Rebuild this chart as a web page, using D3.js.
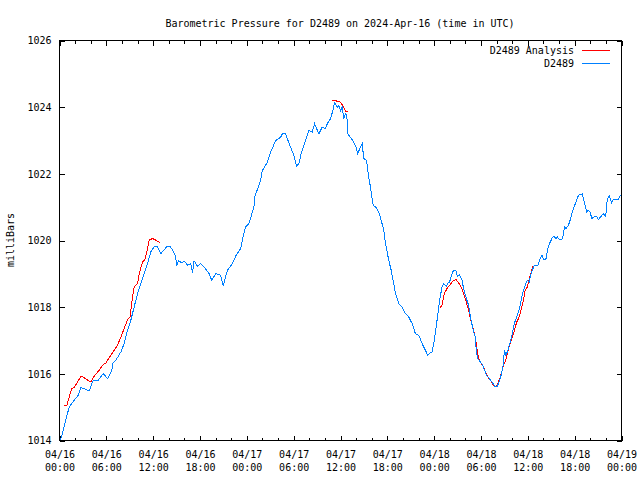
<!DOCTYPE html>
<html>
<head>
<meta charset="utf-8">
<script src="https://cdn.jsdelivr.net/npm/d3@7"></script>
<style>
  html, body { margin: 0; padding: 0; background: #fff; }
  svg { display: block; }
  text { font-family: "DejaVu Sans Mono", monospace; font-size: 10px; fill: #000; }
</style>
</head>
<body>
<svg id="chart" width="640" height="480"></svg>
<script>
// ---------------- data ----------------
const titleText = "Barometric Pressure for D2489 on 2024-Apr-16 (time in UTC)";
const yLabel = "milliBars";
const seriesNames = ["D2489 Analysis", "D2489"];
const startTime = Date.UTC(2024, 3, 16, 0, 0);
const endTime = Date.UTC(2024, 3, 19, 0, 0);
const yTicks = [1014, 1016, 1018, 1020, 1022, 1024, 1026];

// D2489 observations: hours after 04/16 00:00 UTC and pressure (mb)
const obsHours = [0.05,0.28,0.70,1.25,1.89,2.40,2.75,3.81,4.32,4.96,5.60,6.16,6.71,6.80,7.23,7.87,8.29,8.72,9.14,9.57,10.00,10.42,10.85,11.28,11.70,12.12,12.56,12.98,13.40,13.75,14.17,14.61,14.90,14.99,15.24,15.67,15.96,16.40,16.82,17.04,17.24,17.67,18.10,18.52,19.16,19.50,20.02,20.65,20.97,21.51,22.15,22.57,23.21,23.56,23.85,24.27,24.91,25.00,25.35,25.77,25.99,26.63,27.05,27.69,28.33,28.55,28.97,29.19,29.61,30.03,30.37,30.67,31.01,31.53,31.95,32.38,32.68,33.23,33.66,34.08,34.30,34.72,35.02,35.24,35.58,35.78,36.00,36.22,36.42,36.68,36.86,36.94,37.50,37.92,38.21,38.56,38.78,38.98,39.33,39.62,39.84,40.18,40.48,40.90,41.21,41.54,41.76,42.18,42.49,42.74,43.04,43.46,43.89,44.31,44.74,45.17,45.59,46.02,46.45,46.87,47.17,47.51,47.73,48.02,48.37,48.70,49.01,49.21,49.56,49.73,49.98,50.29,50.49,50.80,50.97,51.22,51.57,51.77,52.12,52.41,52.54,52.72,52.92,53.05,53.27,53.39,53.56,53.91,54.20,54.46,54.76,55.06,55.40,55.61,55.83,56.04,56.25,56.47,56.68,56.89,56.98,57.19,57.45,57.62,57.87,58.09,58.26,58.51,58.81,59.02,59.24,59.44,59.75,59.95,60.17,60.30,60.59,60.81,61.29,61.58,61.80,62.09,62.35,62.51,62.77,62.99,63.15,63.37,63.59,63.79,64.01,64.36,64.56,64.69,64.91,65.20,65.42,65.63,65.93,66.18,66.40,66.61,66.82,66.99,67.12,67.34,67.55,67.76,67.98,68.19,68.48,68.83,69.04,69.34,69.68,69.98,70.11,70.32,70.44,70.75,70.95,71.59,71.81,72.00];
const obsPressure = [1014.02,1014.11,1014.52,1015.01,1015.21,1015.36,1015.59,1015.49,1015.81,1015.81,1016.01,1015.86,1016.11,1016.31,1016.41,1016.66,1016.91,1017.31,1017.61,1018.01,1018.41,1018.71,1019.01,1019.31,1019.66,1019.81,1019.81,1019.61,1019.71,1019.83,1019.83,1019.66,1019.51,1019.23,1019.39,1019.33,1019.39,1019.26,1019.31,1019.03,1019.39,1019.23,1019.31,1019.21,1019.01,1018.81,1019.01,1018.96,1018.63,1019.11,1019.31,1019.53,1019.76,1020.16,1020.41,1020.51,1021.01,1021.31,1021.53,1021.81,1022.10,1022.35,1022.65,1023.00,1023.10,1023.20,1023.20,1023.05,1022.80,1022.55,1022.22,1022.31,1022.65,1023.00,1023.30,1023.25,1023.50,1023.20,1023.40,1023.35,1023.50,1023.65,1023.90,1024.13,1024.00,1024.05,1023.90,1024.00,1023.65,1023.82,1023.62,1023.20,1023.02,1022.85,1022.61,1022.80,1022.90,1022.46,1022.40,1021.90,1021.60,1021.06,1021.01,1020.86,1020.61,1020.31,1019.91,1019.41,1019.11,1018.81,1018.41,1018.11,1018.01,1017.81,1017.71,1017.51,1017.21,1017.16,1016.91,1016.71,1016.56,1016.63,1016.66,1017.01,1017.61,1018.21,1018.61,1018.69,1018.63,1018.71,1018.76,1019.01,1019.10,1019.09,1018.93,1018.98,1018.81,1018.56,1018.26,1018.06,1017.86,1017.61,1017.41,1017.26,1017.11,1016.71,1016.46,1016.36,1016.26,1016.11,1015.93,1015.86,1015.76,1015.69,1015.61,1015.61,1015.71,1015.86,1016.06,1016.31,1016.71,1016.56,1016.71,1016.86,1017.06,1017.31,1017.51,1017.66,1017.86,1018.06,1018.31,1018.51,1018.71,1018.81,1018.76,1018.91,1019.11,1019.26,1019.26,1019.46,1019.56,1019.41,1019.46,1019.71,1019.91,1020.01,1020.09,1020.13,1020.06,1020.11,1020.03,1020.03,1020.16,1020.41,1020.36,1020.46,1020.61,1020.81,1021.01,1021.16,1021.31,1021.39,1021.38,1021.41,1021.26,1021.06,1020.86,1020.91,1020.86,1020.66,1020.71,1020.71,1020.63,1020.71,1020.81,1020.71,1021.11,1021.31,1021.33,1021.13,1021.23,1021.23,1021.33,1021.36];

// D2489 Analysis: three runs (null marks a gap between runs)
const anaHours = [0.61,0.96,1.25,1.56,1.89,2.33,2.75,3.10,3.61,4.03,4.37,4.67,5.09,5.52,5.95,6.16,6.59,7.01,7.44,7.87,8.29,8.72,9.05,9.23,9.57,10.00,10.21,10.64,10.93,11.19,11.48,11.92,12.34,12.89,
  13.5,
  34.85,35.36,35.62,35.99,36.42,36.64,36.94,
  37.5,
  48.70,49.01,49.30,49.65,49.98,50.42,50.80,51.13,51.44,51.77,51.99,52.21,52.41,52.63,52.85,53.05,53.27,53.48,53.69,54.00,54.33,54.55,54.84,55.18,55.48,55.70,55.95,56.25,56.47,56.68,56.89,57.10,57.32,57.52,57.74,57.96,58.17,58.38,58.60,58.81,59.02,59.24,59.44,59.65,59.95,60.20,60.38,60.64];
const anaPressure = [1015.06,1015.06,1015.31,1015.56,1015.59,1015.76,1015.93,1015.89,1015.81,1015.76,1015.91,1015.99,1016.11,1016.26,1016.33,1016.41,1016.56,1016.71,1016.86,1017.11,1017.36,1017.63,1017.71,1018.11,1018.61,1018.71,1019.01,1019.36,1019.41,1019.66,1020.01,1020.06,1020.01,1019.93,
  null,
  1024.20,1024.20,1024.17,1024.15,1024.00,1023.88,1023.88,
  null,
  1017.96,1018.06,1018.41,1018.56,1018.66,1018.79,1018.83,1018.73,1018.61,1018.41,1018.26,1018.06,1017.91,1017.66,1017.46,1017.31,1017.11,1016.76,1016.46,1016.33,1016.21,1016.06,1015.93,1015.81,1015.71,1015.61,1015.61,1015.76,1015.91,1016.06,1016.26,1016.36,1016.56,1016.76,1016.91,1017.06,1017.21,1017.41,1017.56,1017.66,1017.81,1018.01,1018.21,1018.51,1018.61,1018.86,1019.01,1019.23];

const colors = ["#ff0000", "#0080ff"];

// ---------------- chart ----------------
const svg = d3.select("#chart");
svg.append("rect").attr("width", 640).attr("height", 480).attr("fill", "#fff");

const mLeft = 59, mRight = 621, mTop = 40, mBottom = 440;
const x = d3.scaleUtc().domain([new Date(startTime), new Date(endTime)]).range([mLeft, mRight]);
const y = d3.scaleLinear().domain([1014, 1026]).range([mBottom, mTop]);

const toDate = h => new Date(startTime + h * 3600 * 1000);
const obs = obsHours.map((h, i) => ({ t: toDate(h), v: obsPressure[i] }));
const ana = anaHours.map((h, i) => ({ t: toDate(h), v: anaPressure[i] }));

const line = d3.line()
  .defined(d => d.v !== null)
  .x(d => x(d.t))
  .y(d => y(d.v));

const g = svg.append("g").attr("transform", "translate(0.5,0.5)");

const majorTicks = d3.utcHour.every(6).range(new Date(startTime), new Date(endTime + 1));
const minorTicks = d3.utcHour.every(2).range(new Date(startTime), new Date(endTime + 1));

const fmtDay = d3.utcFormat("%m/%d"), fmtTime = d3.utcFormat("%H:%M");

function styleAxis(sel) {
  sel.select(".domain").remove();
  sel.selectAll("line").attr("stroke", "#000").attr("shape-rendering", "crispEdges");
  sel.selectAll("text").attr("font-family", "DejaVu Sans Mono").attr("font-size", 10).attr("fill", "#000");
}

// bottom major + labels
const bx = g.append("g").attr("transform", `translate(0,${mBottom})`)
  .call(d3.axisBottom(x).tickValues(majorTicks).tickSize(-5).tickSizeOuter(0).tickFormat(() => ""));
styleAxis(bx);
bx.selectAll(".tick text").each(function(d) {
  const t = d3.select(this).text(null).attr("y", 0).attr("dy", null);
  t.append("tspan").attr("x", 0).attr("y", 17.5).text(fmtDay(d));
  t.append("tspan").attr("x", 0).attr("y", 30.5).text(fmtTime(d));
});
// bottom minor
styleAxis(g.append("g").attr("transform", `translate(0,${mBottom})`)
  .call(d3.axisBottom(x).tickValues(minorTicks).tickSize(-3).tickSizeOuter(0).tickFormat(() => "")));
// top major + minor
styleAxis(g.append("g").attr("transform", `translate(0,${mTop})`)
  .call(d3.axisTop(x).tickValues(majorTicks).tickSize(-5).tickSizeOuter(0).tickFormat(() => "")));
styleAxis(g.append("g").attr("transform", `translate(0,${mTop})`)
  .call(d3.axisTop(x).tickValues(minorTicks).tickSize(-3).tickSizeOuter(0).tickFormat(() => "")));
// left
const ly = g.append("g").attr("transform", `translate(${mLeft},0)`)
  .call(d3.axisLeft(y).tickValues(yTicks).tickSize(-5).tickSizeOuter(0).tickPadding(8).tickFormat(d3.format("d")));
styleAxis(ly);
ly.selectAll("text").attr("dy", "0.32em");
// right
styleAxis(g.append("g").attr("transform", `translate(${mRight},0)`)
  .call(d3.axisRight(y).tickValues(yTicks).tickSize(-5).tickSizeOuter(0).tickFormat(() => "")));

// series (analysis first, observations on top)
g.append("path").datum(ana).attr("fill", "none").attr("stroke", colors[0]).attr("stroke-width", 1)
  .attr("shape-rendering", "crispEdges").attr("d", line);
g.append("path").datum(obs).attr("fill", "none").attr("stroke", colors[1]).attr("stroke-width", 1)
  .attr("shape-rendering", "crispEdges").attr("d", line);

// frame
g.append("rect").attr("x", mLeft).attr("y", mTop).attr("width", mRight - mLeft).attr("height", mBottom - mTop)
  .attr("fill", "none").attr("stroke", "#000").attr("shape-rendering", "crispEdges");

// title
svg.append("text").attr("x", (mLeft + mRight) / 2).attr("y", 27).attr("text-anchor", "middle").text(titleText);
// y label
svg.append("text").attr("transform", "translate(14,240) rotate(-90)").attr("text-anchor", "middle").text(yLabel);

// legend
const legend = svg.append("g");
seriesNames.forEach((name, i) => {
  const yy = 50 + i * 13;
  legend.append("text").attr("x", 574).attr("y", yy + 4).attr("text-anchor", "end").text(name);
  legend.append("line").attr("x1", 582).attr("x2", 610).attr("y1", yy + 0.5).attr("y2", yy + 0.5)
    .attr("stroke", colors[i]).attr("stroke-width", 1).attr("shape-rendering", "crispEdges");
});
</script>
</body>
</html>
